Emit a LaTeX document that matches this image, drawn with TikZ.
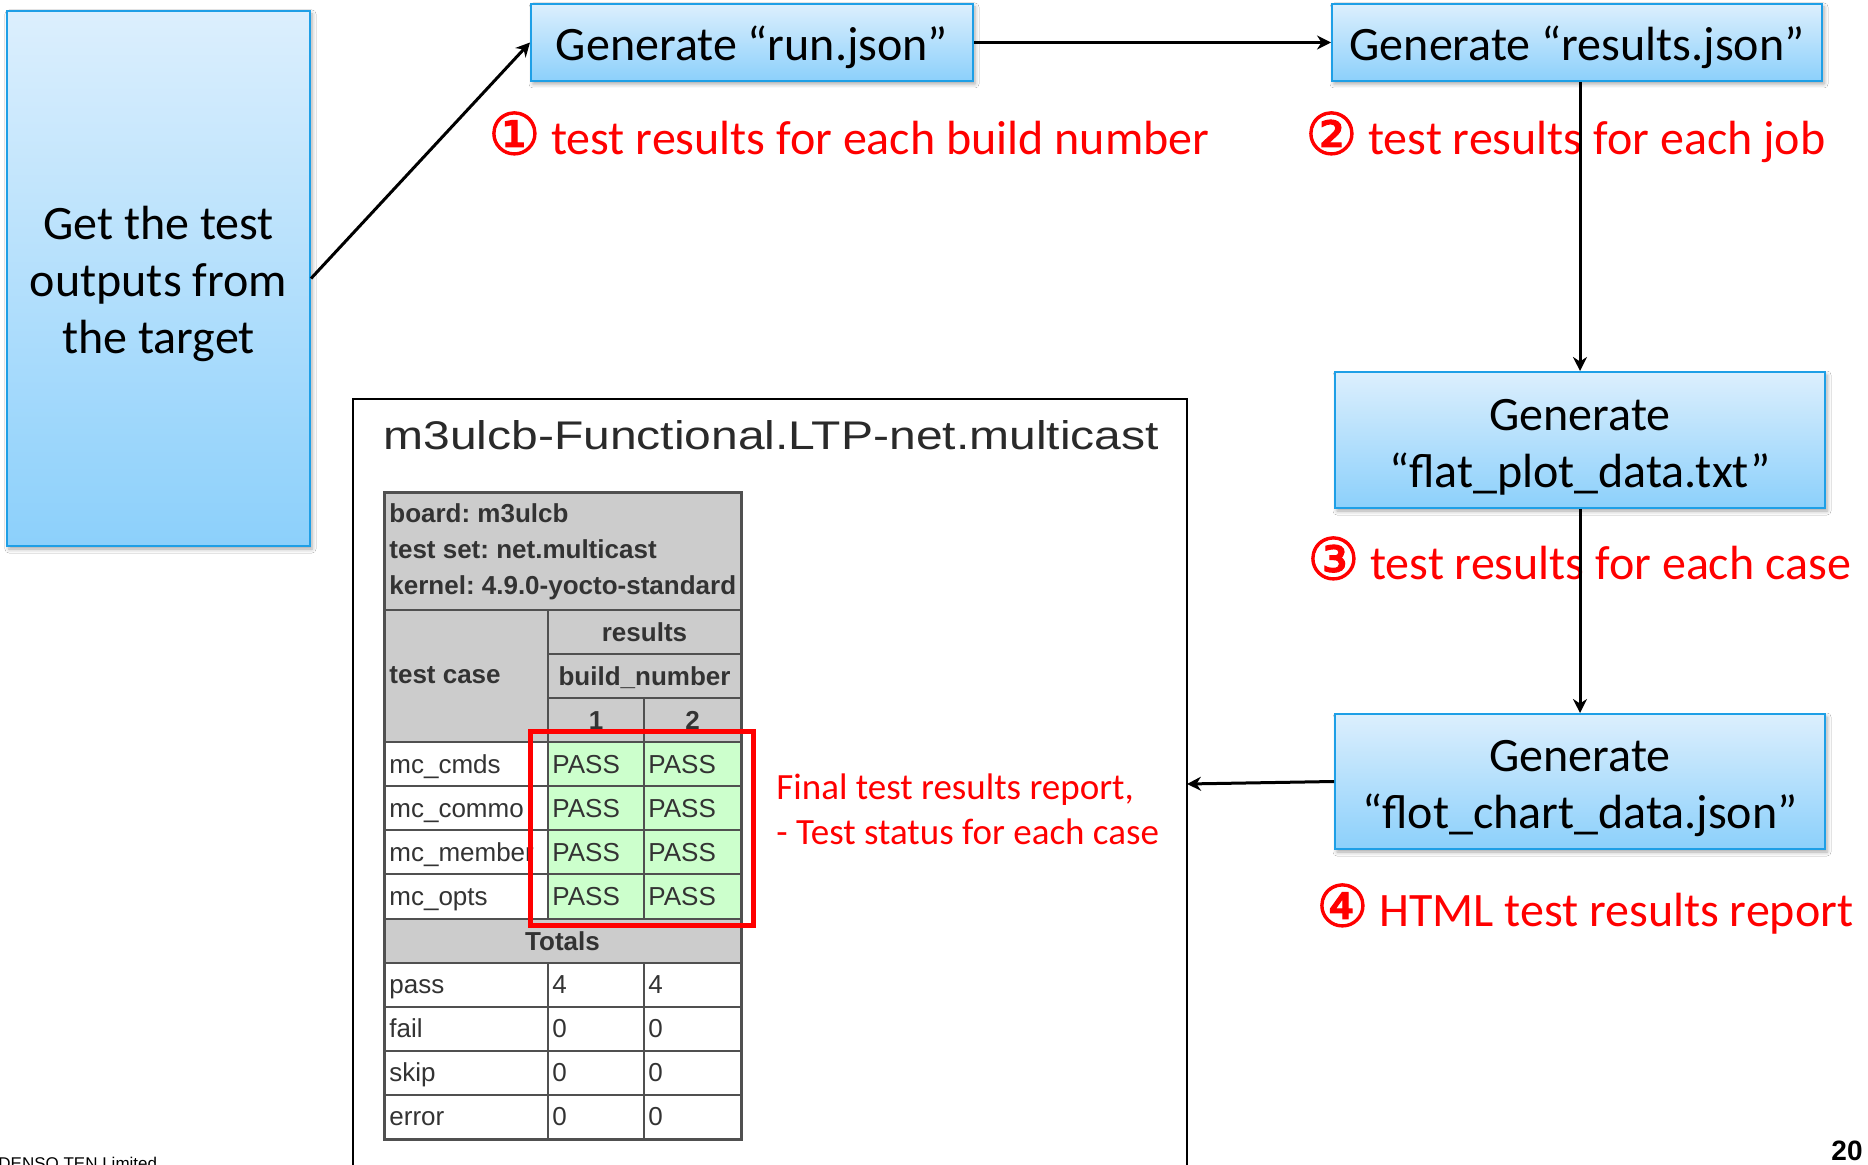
\documentclass[tikz,border=0pt]{standalone}
\usepackage{fontspec}
\usepackage{graphicx}
\setmainfont{Carlito}
\newfontfamily\arialfont{Liberation Sans}
\newfontfamily\circfont[FakeBold=1.8]{DejaVu Sans}
\usetikzlibrary{arrows.meta,shadows.blur}

\definecolor{boxtop}{HTML}{DCEFFD}
\definecolor{boxbot}{HTML}{8CD0FB}
\definecolor{boxline}{HTML}{1E9FE6}
\definecolor{labred}{HTML}{FF0000}
\definecolor{hdrgray}{HTML}{CCCCCC}
\definecolor{passgreen}{HTML}{CCFFCC}
\definecolor{cellline}{HTML}{505050}
\definecolor{tabtext}{HTML}{333333}
\definecolor{titletext}{HTML}{2A2A2A}

\newcommand{\circnum}[1]{{\circfont\fontsize{29}{29}\selectfont #1}}
% taller first line, so the text sits a little low in its box
\newcommand{\boxstrut}{\rule{0pt}{22.5pt}}

\begin{document}
\frenchspacing
\begin{tikzpicture}[x=0.5pt,y=-0.5pt,
  genbox/.style={draw=boxline, line width=1pt, top color=boxtop, bottom color=boxbot,
    blur shadow={shadow xshift=1pt, shadow yshift=-1.5pt, shadow blur radius=2pt, shadow opacity=35},
    align=center, font=\fontsize{24}{28.5}\selectfont, inner sep=0pt},
  flow/.style={line width=1.5pt, -{Stealth[length=7pt,width=7pt]}},
  lab/.style={text=labred, font=\fontsize{24}{28}\selectfont, inner sep=0pt, anchor=base west},
  note/.style={text=labred, font=\fontsize{18.5}{22}\selectfont, inner sep=0pt, anchor=base west},
  cell/.style={draw=cellline, line width=1pt},
  hdrcell/.style={cell, fill=hdrgray},
  passcell/.style={cell, fill=passgreen},
  plaincell/.style={cell, fill=white},
  ttxt/.style={font=\arialfont\fontsize{13}{15}\selectfont, text=tabtext, inner sep=0pt, anchor=base west},
  tbold/.style={font=\arialfont\bfseries\fontsize{13}{15}\selectfont, text=tabtext, inner sep=0pt, anchor=base west},
  tboldc/.style={tbold, anchor=base}
]
\useasboundingbox (0,0) rectangle (1868,1165);
\fill[white] (0,0) rectangle (1868,1165);

% ---------- report frame ----------
\draw[line width=1.2pt] (353,399) rectangle (1187,1190);
\coordinate (reportin) at (1187,784);

\node[anchor=base west, inner sep=0pt, text=titletext,
      font=\arialfont\fontsize{20}{24}\selectfont] (title) at (383,450)
  {\scalebox{1.2}[1]{m3ulcb-Functional.LTP-net.multicast}};

% ---------- results table ----------
% header block
\path[hdrcell] (384,493) rectangle (741,610);
\node[tbold] (hboard)  at (389,523) {board: m3ulcb};
\node[tbold] (hset)    at (389,559) {test set: net.multicast};
\node[tbold] (hkernel) at (389,595) {kernel: 4.9.0-yocto-standard};

% column headers
\path[hdrcell] (384,610) rectangle (548,742.2);
\node[tbold] (htc) at (389,683) {test case};
\path[hdrcell] (548,610) rectangle (741,654.1);
\node[tboldc] (hres) at (644.5,641) {results};
\path[hdrcell] (548,654.1) rectangle (741,698.2);
\node[tboldc] (hbn) at (644.5,685) {build\_number};
\path[hdrcell] (548,698.2) rectangle (644,742.2);
\path[hdrcell] (644,698.2) rectangle (741,742.2);
\node[tboldc] (hb1) at (596,729) {1};
\node[tboldc] (hb2) at (692.5,729) {2};

% test case rows
\foreach \nm [count=\i from 3] in {mc\_cmds,mc\_commo,mc\_member,mc\_opts} {
  \pgfmathsetmacro\ya{610+44.08*\i}
  \pgfmathsetmacro\yb{610+44.08*(\i+1)}
  \pgfmathsetmacro\yt{610+44.08*\i+31}
  \path[plaincell] (384,\ya) rectangle (548,\yb);
  \path[passcell] (548,\ya) rectangle (644,\yb);
  \path[passcell] (644,\ya) rectangle (741,\yb);
  \begin{scope}
    \clip (384,\ya) rectangle (546,\yb);
    \node[ttxt] (case\i) at (389,\yt) {\nm};
  \end{scope}
  \node[ttxt] (pa\i) at (552,\yt) {PASS};
  \node[ttxt] (pb\i) at (648,\yt) {PASS};
}

% totals
\path[hdrcell] (384,918.6) rectangle (741,962.6);
\node[tboldc] (htot) at (562.5,950) {Totals};
\foreach \nm/\va/\vb [count=\i from 8] in {pass/4/4,fail/0/0,skip/0/0,error/0/0} {
  \pgfmathsetmacro\ya{610+44.08*\i}
  \pgfmathsetmacro\yb{610+44.08*(\i+1)}
  \pgfmathsetmacro\yt{610+44.08*\i+31}
  \path[plaincell] (384,\ya) rectangle (548,\yb);
  \path[plaincell] (548,\ya) rectangle (644,\yb);
  \path[plaincell] (644,\ya) rectangle (741,\yb);
  \node[ttxt] (tn\i) at (389,\yt) {\nm};
  \node[ttxt] (ta\i) at (552,\yt) {\va};
  \node[ttxt] (tb\i) at (648,\yt) {\vb};
}
\draw[cellline, line width=1.5pt] (384,493) rectangle (741,1139);

% highlight round the PASS cells
\draw[labred, line width=2.5pt] (530,731) rectangle (753,925);
\node[note] (final1) at (776,799) {Final test results report,};
\node[note] (final2) at (776,844) {- Test status for each case};

% ---------- processing steps ----------
\node[genbox, minimum width=151.5pt, minimum height=267.5pt] (get) at (158.5,278.5)
  {\boxstrut Get the test\\outputs from\\the target};
\node[genbox, minimum width=221pt, minimum height=38.5pt] (run) at (752,42.5)
  {\boxstrut Generate “run.json”};
\node[genbox, minimum width=245pt, minimum height=38.5pt] (res) at (1577,42.5)
  {\boxstrut Generate “results.json”};
\node[genbox, minimum width=245pt, minimum height=68pt] (flat) at (1580,440)
  {\boxstrut Generate\\“flat\_plot\_data.txt”};
\node[genbox, minimum width=245pt, minimum height=67.5pt] (flot) at (1580,781.5)
  {\boxstrut Generate\\“flot\_chart\_data.json”};

% step captions
\node[lab] (cap1) at (488,154.5) {\circnum{①} test results for each build number};
\node[lab] (cap2) at (1305,154.5) {\circnum{②} test results for each job};
\node[lab] (cap3) at (1307,579.5) {\circnum{③} test results for each case};
\node[lab] (cap4) at (1316,926.5) {\circnum{④} HTML test results report};

% connectors
\draw[flow] (get.east) -- (run.west);
\draw[flow] (run.east) -- (res.west);
\draw[flow] (res.south -| flat.north) -- (flat.north);
\draw[flow] (flat.south) -- (flot.north);
\draw[flow] (flot.west) -- (reportin);

% footer
\node[anchor=base west, inner sep=0pt, font=\arialfont\fontsize{8.5}{10}\selectfont] (corp) at (-2,1169) {DENSO TEN Limited};
\node[anchor=base east, inner sep=0pt, font=\arialfont\bfseries\fontsize{14}{16}\selectfont] (pagenum) at (1863,1160) {20};
\end{tikzpicture}
\end{document}
